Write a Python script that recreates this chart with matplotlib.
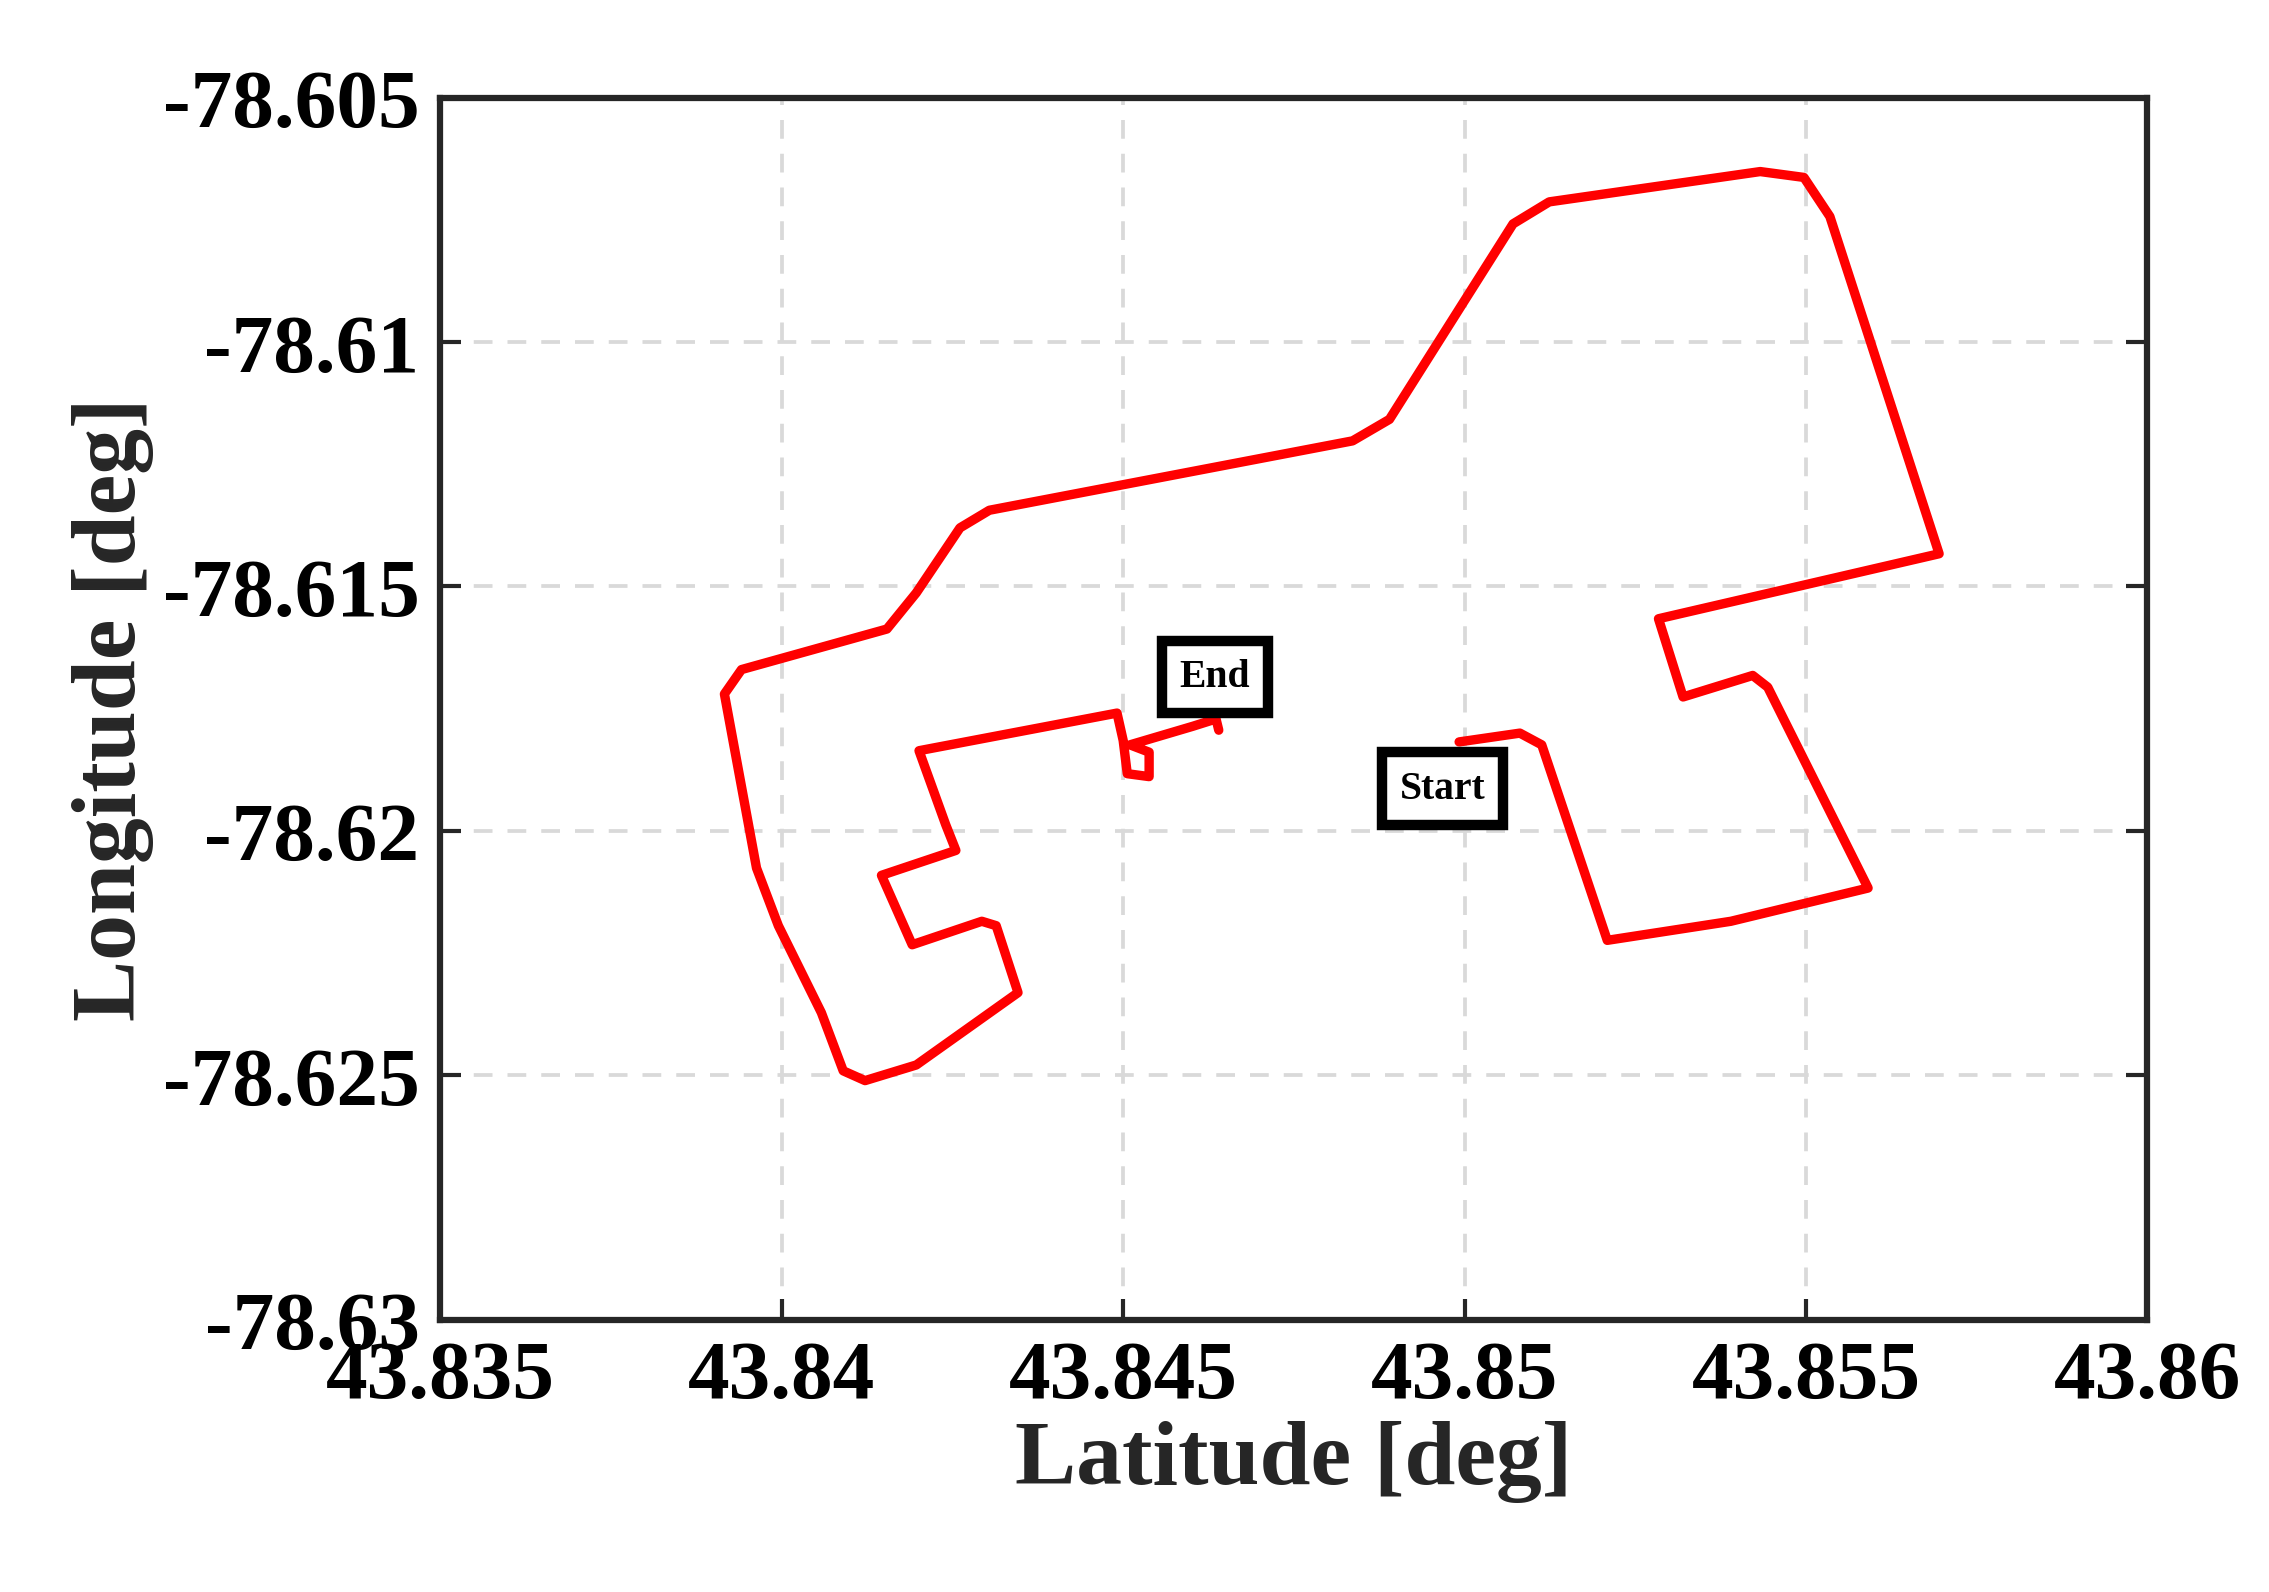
"""Vehicle trajectory: latitude vs longitude with start/end markers."""

import matplotlib
matplotlib.use("Agg")
import matplotlib.pyplot as plt

plt.rcParams["font.family"] = ["Liberation Serif", "DejaVu Serif"]
plt.rcParams["font.weight"] = "bold"

LAT = [
    43.84992, 43.85081, 43.85113, 43.85209, 43.85390, 43.85591, 43.85444,
    43.85422, 43.85320, 43.85284, 43.85695, 43.85535, 43.85497, 43.85433,
    43.85124, 43.85071, 43.84890, 43.84836, 43.84304, 43.84261, 43.84197,
    43.84154, 43.83941, 43.83916, 43.83963, 43.83995, 43.84058, 43.84090,
    43.84122, 43.84197, 43.84346, 43.84314, 43.84293, 43.84191, 43.84146,
    43.84255, 43.84240, 43.84201, 43.84491, 43.84500, 43.84506, 43.84538,
    43.84538, 43.84510, 43.84602, 43.84636, 43.84640,
]
LON = [
    -78.61818, -78.61800, -78.61824, -78.62224, -78.62185, -78.62117,
    -78.61706, -78.61682, -78.61726, -78.61566, -78.61433, -78.60743,
    -78.60663, -78.60651, -78.60713, -78.60758, -78.61158, -78.61202,
    -78.61344, -78.61380, -78.61513, -78.61587, -78.61670, -78.61720,
    -78.62076, -78.62194, -78.62372, -78.62491, -78.62511, -78.62479,
    -78.62331, -78.62194, -78.62185, -78.62233, -78.62091, -78.62040,
    -78.61987, -78.61836, -78.61759, -78.61815, -78.61883, -78.61889,
    -78.61839, -78.61824, -78.61786, -78.61771, -78.61794,
]
LABELS = [("End", 43.84634, -78.61685), ("Start", 43.84968, -78.61913)]
X_TICKS = [43.835, 43.84, 43.845, 43.85, 43.855, 43.86]
X_TICK_LABELS = ["43.835", "43.84", "43.845", "43.85", "43.855", "43.86"]
Y_TICKS = [-78.605, -78.61, -78.615, -78.62, -78.625, -78.63]
Y_TICK_LABELS = ["-78.605", "-78.61", "-78.615", "-78.62", "-78.625", "-78.63"]

fig = plt.figure(figsize=(15.133, 10.62), dpi=150)
ax = fig.add_axes([0.194, 0.171, 0.752, 0.767])
ax.plot(LAT, LON, color="#ff0000", linewidth=4.5, solid_joinstyle="round",
        solid_capstyle="round")
for text, x, y in LABELS:
    ax.text(x, y, text, fontsize=19, fontweight="bold", ha="center", va="center",
            bbox=dict(boxstyle="square,pad=0.45", facecolor="white",
                      edgecolor="black", linewidth=5))
ax.set_xlim(43.835, 43.86)
ax.set_ylim(-78.63, -78.605)
ax.set_xticks(X_TICKS, X_TICK_LABELS)
ax.set_yticks(Y_TICKS, Y_TICK_LABELS)
ax.tick_params(labelsize=40, direction="in", length=10, width=2, colors="#262626",
               right=True, pad=10)
for lab in ax.get_xticklabels() + ax.get_yticklabels():
    lab.set_color("black")
ax.grid(True, linestyle=(0, (5, 4)), color="#d9d9d9", linewidth=1.8)
for spine in ax.spines.values():
    spine.set_linewidth(3)
    spine.set_color("#262626")
ax.set_xlabel("Latitude [deg]", fontsize=44, fontweight="bold", labelpad=2,
              color="#262626")
ax.set_ylabel("Longitude [deg]", fontsize=44, fontweight="bold", labelpad=4,
              color="#262626")
fig.savefig("out.png", dpi=150)
